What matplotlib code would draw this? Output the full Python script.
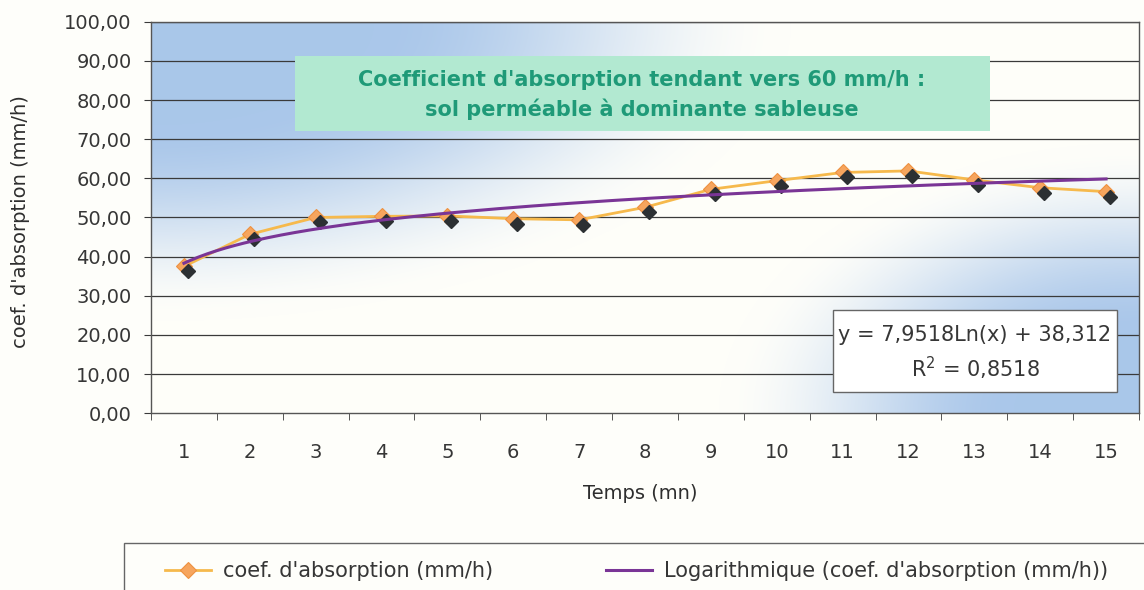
import numpy as np
import matplotlib
matplotlib.use("Agg")
import matplotlib.pyplot as plt
import matplotlib.transforms as mtransforms
from matplotlib.patches import Rectangle

# ---------------
# Data
# ---------------

temps = np.arange(1, 16)
coef = [37.5, 45.7, 50.0, 50.3, 50.4, 49.7, 49.4, 52.6,
        57.2, 59.4, 61.5, 61.9, 59.6, 57.6, 56.6]

# logarithmic trend y = a*ln(x) + b
fit_a = 7.9518
fit_b = 38.312
fit_r2 = 0.8518

yticks = np.arange(0, 101, 10)

title_lines = ["Coefficient d'absorption tendant vers 60 mm/h :",
               "sol perméable à dominante sableuse"]

# ---------------
# Styles
# ---------------

text_col = "#363636"
grid_col = "#3a3a3a"
orange_line = "#f6b94c"
orange_face = "#f6a55e"
purple = "#7a3596"
shadow = "#2c3033"
blue = np.array([170, 199, 234]) / 255.0
white = np.array([254, 254, 250]) / 255.0

plt.rcParams["font.family"] = ["DejaVu Sans"]


def smooth(v):
    v = np.clip(v, 0, 1)
    return v * v * (3 - 2 * v)


fig = plt.figure(figsize=(11.44, 5.90), dpi=100, facecolor="#fefefa")
ax = fig.add_axes([151 / 1144, 1 - 413.3 / 590, 988 / 1144, 391.6 / 590])
ax.set_facecolor("white")

# Gradient background: blue corners top-left and bottom-right
W, H = 988, 392
X, Y = np.meshgrid(np.arange(W), np.arange(H))
t1 = np.sqrt((X / 640.0) ** 2 + (Y / 300.0) ** 2)
w1 = smooth((1.0 - t1) / 0.65)
t2 = np.sqrt(((W - X) / 420.0) ** 2 + ((H - Y) / 270.0) ** 2)
w2 = smooth((1.0 - t2) / 0.7)
w = np.clip(w1 + w2, 0, 1)
img = white[None, None, :] * (1 - w[..., None]) + blue[None, None, :] * w[..., None]
ax.imshow(img, extent=(0.5, 15.5, 0, 100), aspect="auto", zorder=0,
          interpolation="bilinear")

ax.set_xlim(0.5, 15.5)
ax.set_ylim(0, 100)

# gridlines
for yv in yticks[1:]:
    ax.axhline(yv, color=grid_col, lw=0.9, zorder=1)

# Title box
ax.add_patch(Rectangle((0.146, 0.722), 0.703, 0.191, transform=ax.transAxes,
                       facecolor="#b2e9d1", edgecolor="none", zorder=2))
ax.text(0.497, 0.812, "\n".join(title_lines), transform=ax.transAxes,
        ha="center", va="center", fontsize=15, fontweight="bold",
        color="#1f9a78", linespacing=1.5, zorder=3)

# Data series with dark shadow
line_data, = ax.plot(temps, coef, color=orange_line, lw=2, marker="D",
                     ms=8, mfc=orange_face, mec="#ee9140", mew=0.8, zorder=4,
                     label="coef. d'absorption (mm/h)")
shadow_tr = mtransforms.offset_copy(ax.transData, fig=fig, x=4, y=-5, units="dots")
ax.plot(temps, coef, ls="none", marker="D", ms=7, mfc=shadow, mec=shadow,
        transform=shadow_tr, zorder=5)

# Trend curve
xs = np.linspace(1, 15, 200)
line_fit, = ax.plot(xs, fit_a * np.log(xs) + fit_b, color=purple, lw=2.2, zorder=6,
                    label="Logarithmique (coef. d'absorption (mm/h))")

# Equation box
ax.add_patch(Rectangle((0.690, 0.054), 0.288, 0.209, transform=ax.transAxes,
                       facecolor="white", edgecolor="#666666", lw=1, zorder=7))
eq = "y = {}Ln(x) + {}".format(str(fit_a).replace(".", ","), str(fit_b).replace(".", ","))
ax.text(0.834, 0.199, eq, transform=ax.transAxes, ha="center", va="center",
        fontsize=15, color=text_col, zorder=8)
ax.text(0.834, 0.115, "R$^2$ = " + str(fit_r2).replace(".", ","),
        transform=ax.transAxes, ha="center", va="center",
        fontsize=15, color=text_col, zorder=8)

# Axes, ticks, labels
ax.set_yticks(yticks)
ax.set_yticklabels(["{:.2f}".format(v).replace(".", ",") for v in yticks])
ax.set_xticks(temps)
ax.set_xticklabels([str(t) for t in temps])
ax.set_xticks(np.arange(0.5, 15.6, 1), minor=True)
ax.tick_params(axis="x", which="major", length=0, pad=21.5, labelsize=14,
               labelcolor=text_col)
ax.tick_params(axis="x", which="minor", length=5, color=grid_col, direction="out")
ax.tick_params(axis="y", length=5, color=grid_col, pad=9, labelsize=14,
               labelcolor=text_col)
for sp in ax.spines.values():
    sp.set_color("#555555")
    sp.set_linewidth(1)

ax.set_ylabel("coef. d'absorption (mm/h)", fontsize=14, color="#2e2e2e")
ax.yaxis.set_label_coords(-0.122, 0.49)
ax.set_xlabel("Temps (mn)", fontsize=14, color="#2e2e2e")
ax.xaxis.set_label_coords(0.495, -0.18)

# Legend frame runs off the page on the right and bottom
fig.patches.append(Rectangle((124 / 1144, -0.1), 1.0, 0.1 + 47 / 590,
                             transform=fig.transFigure, facecolor="none",
                             edgecolor="#666666", lw=1))
fig.legend(handles=[line_data, line_fit], loc="center left",
           bbox_to_anchor=(146 / 1144, 0.032), ncol=2, frameon=False,
           fontsize=15, handlelength=2.2, handletextpad=0.6, columnspacing=5.4,
           labelcolor=text_col)

fig.savefig("out.png", dpi=100, facecolor=fig.get_facecolor())
